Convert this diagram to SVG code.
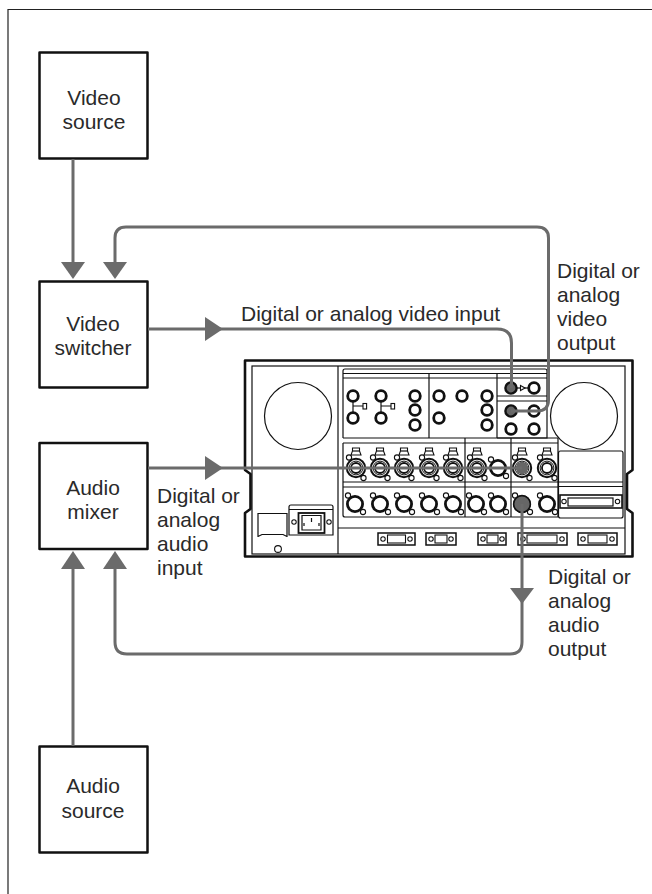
<svg xmlns="http://www.w3.org/2000/svg" width="652" height="894" viewBox="0 0 652 894">
<style>
.box{fill:#fff;stroke:#111;stroke-width:2.5;stroke-linejoin:round}
.t{font-family:"Liberation Sans",Arial,sans-serif;font-size:21px;fill:#2a2a2a}
.m{text-anchor:middle}
.l{fill:none;stroke:#111;stroke-width:1.2}
.j{fill:#fff;stroke:#111;stroke-width:2.8}
.d{fill:#666;stroke:#111;stroke-width:2.4}
.s{fill:#fff;stroke:#111;stroke-width:1.1}
.c{fill:none;stroke:#6b6b6b;stroke-width:3}
.a{fill:#6b6b6b;stroke:none}
</style>
<defs>
<g id="xin">
<path class="s" d="M-3.500,-20 H3.500 V-17 L5,-13 H-5 L-3.500,-17 Z"/>
<path class="l" d="M-3.500,-17 H3.500"/>
<circle r="9.2" fill="#fff" stroke="#111" stroke-width="2"/>
<circle r="6.9" fill="none" stroke="#111" stroke-width="1"/>
<circle r="5" fill="none" stroke="#111" stroke-width="1.8"/>
<circle class="s" cx="-7" cy="-10.500" r="2.6"/>
<circle class="s" cx="7.500" cy="10" r="2.6"/>
</g>
<g id="xout">
<circle r="7.600" class="j"/>
<circle class="s" cx="-7" cy="-8.500" r="2.6"/>
<circle class="s" cx="8" cy="8" r="2.6"/>
</g>
<circle id="scr" r="2.2" class="s"/>
</defs>

<path d="M8,894 V9.500 H652" fill="none" stroke="#222" stroke-width="1.2"/>

<g id="video-source"><rect class="box" x="39.500" y="52.500" width="108" height="106"/><text class="t m" x="94" y="105">Video</text><text class="t m" x="94" y="129">source</text></g>
<g id="video-switcher"><rect class="box" x="39.500" y="281.500" width="108" height="106"/><text class="t m" x="93" y="331">Video</text><text class="t m" x="93" y="355">switcher</text></g>
<g id="audio-mixer"><rect class="box" x="39.500" y="443" width="108" height="106"/><text class="t m" x="93" y="495">Audio</text><text class="t m" x="93" y="519">mixer</text></g>
<g id="audio-source"><rect class="box" x="39.500" y="746.500" width="108" height="106"/><text class="t m" x="93" y="793">Audio</text><text class="t m" x="93" y="818">source</text></g>

<g id="device">
<path d="M245,360.500 H632.500 V470 L627,474 V509 L632.500,513 V556.500 H245 V513 L250.500,509 V474 L245,470 Z" fill="#fff" stroke="#111" stroke-width="2.6" stroke-linejoin="round"/>
<rect class="l" x="252" y="366" width="373" height="188"/>
<path class="l" d="M338,366 V554 M338,528 H625"/>
<circle cx="298" cy="416" r="33.500" fill="#fff" stroke="#111" stroke-width="1.2"/>
<circle cx="584" cy="416" r="33.500" fill="#fff" stroke="#111" stroke-width="1.2"/>

<path class="l" d="M343,438 V371 Q343,369 345,369 H545 Q547,369 547,371 V438 H343 M343,373.500 H547 M343,378 H547 M429,374 V438 M497,374 V438 M497,396 H547 M497,401 H547"/>

<path class="l" d="M353,396 V418 M353,406 H363 M381,396 V418 M381,406 H391"/>
<rect class="s" x="363" y="403.500" width="3.600" height="5.500"/>
<rect class="s" x="391" y="403.500" width="3.600" height="5.500"/>
<g class="j">
<circle cx="353" cy="396" r="5.300"/><circle cx="353" cy="418" r="5.300"/>
<circle cx="381" cy="396" r="5.300"/><circle cx="381" cy="418" r="5.300"/>
<circle cx="415" cy="396" r="5.300"/><circle cx="415" cy="410" r="5.300"/><circle cx="415" cy="425" r="5.300"/>
<circle cx="439" cy="396" r="5.300"/><circle cx="439" cy="418" r="5.300"/>
<circle cx="462" cy="396" r="5.300"/>
<circle cx="487" cy="396" r="5.300"/><circle cx="487" cy="410" r="5.300"/><circle cx="487" cy="425" r="5.300"/>
<circle cx="534" cy="388" r="5.300"/><circle cx="534" cy="411" r="5.300"/>
<circle cx="511" cy="429" r="5.300"/><circle cx="534" cy="429" r="5.300"/>
</g>
<circle class="d" cx="511" cy="388" r="5.600"/>
<circle class="d" cx="511" cy="411" r="5.600"/>
<path class="l" d="M517,388 H528"/>
<path class="s" d="M520.500,385.500 L525,388 L520.500,390.500 Z"/>

<path class="l" d="M343,443 H558 M343,443 V515 Q343,517 345,517 H558 M497,438 H558 V517 M465,438 V517 M511,438 V517 M343,482 H558 M343,487 H558"/>

<use href="#xin" x="356" y="468"/><use href="#xin" x="380" y="468"/><use href="#xin" x="404" y="468"/><use href="#xin" x="429" y="468"/><use href="#xin" x="453" y="468"/><use href="#xin" x="477" y="468"/>
<use href="#xout" x="498" y="468"/>
<use href="#xin" x="522" y="468"/><use href="#xin" x="547" y="468"/>
<circle cx="522" cy="468" r="6" fill="#666"/>
<use href="#xout" x="355" y="504"/><use href="#xout" x="380" y="504"/><use href="#xout" x="404" y="504"/><use href="#xout" x="429" y="504"/><use href="#xout" x="453" y="504"/><use href="#xout" x="476" y="504"/><use href="#xout" x="498" y="504"/>
<use href="#xout" x="522" y="504"/><use href="#xout" x="547" y="504"/>
<circle cx="522" cy="504" r="8.400" fill="#666" stroke="#111" stroke-width="1.6"/>

<rect class="l" x="558.500" y="451" width="64.500" height="67" rx="2"/>
<path class="l" d="M558,482 H623 M558,486.500 H623"/>
<rect x="560" y="495" width="62" height="13" fill="#fff" stroke="#111" stroke-width="1.6"/>
<rect x="568" y="498" width="45" height="8" fill="#fff" stroke="#111" stroke-width="1.2"/>
<use href="#scr" x="564" y="501.500"/><use href="#scr" x="617.500" y="501.500"/>

<g fill="#fff" stroke="#111" stroke-width="1.5">
<rect x="378" y="533" width="37" height="12"/>
<rect x="426" y="533" width="30" height="12"/>
<rect x="478" y="533" width="28" height="12"/>
<rect x="518" y="533" width="49" height="12"/>
<rect x="578" y="533" width="39" height="12"/>
</g>
<g fill="#fff" stroke="#111" stroke-width="1.1">
<rect x="387.500" y="535" width="18" height="8"/>
<rect x="435" y="535" width="12" height="8"/>
<rect x="487" y="535" width="11" height="8"/>
<rect x="527" y="535" width="30" height="8"/>
<rect x="588" y="535" width="19" height="8"/>
</g>
<use href="#scr" x="383" y="539"/><use href="#scr" x="410" y="539"/>
<use href="#scr" x="431" y="539"/><use href="#scr" x="451" y="539"/>
<use href="#scr" x="483" y="539"/><use href="#scr" x="502" y="539"/>
<use href="#scr" x="523" y="539"/><use href="#scr" x="562" y="539"/>
<use href="#scr" x="583" y="539"/><use href="#scr" x="612" y="539"/>

<path class="l" d="M289,535 V507 Q289,505 291,505 H331 Q333,505 333,507 V535 Z M289,509.500 H333"/>
<rect x="298.500" y="513" width="26" height="20" fill="#fff" stroke="#111" stroke-width="1.8"/>
<path class="l" d="M302,515.500 H321 V530 H302 Z"/>
<path class="l" d="M311.500,518 V522 M304,523 V526 M319,523 V526"/>
<use href="#scr" x="294" y="522"/><use href="#scr" x="329" y="522"/>
<path class="l" d="M258,537 V513.500 H287 V537 M258,536.500 L262,534.500 H283 L287,536.500"/>
<circle cx="278" cy="549" r="3.400" class="s"/>
</g>

<g id="connectors">
<path class="c" d="M73,159 V264"/>
<path class="c" d="M115,264 V238 Q115,227 126,227 H537 Q548.500,227 548.500,238 V400 Q548.500,411 537,411 H511"/>
<path class="c" d="M148,329 H497 Q511.500,329 511.500,343 V388"/>
<path class="c" d="M148,468 H522"/>
<path class="c" d="M522,504 V642 Q522,654 510,654 H127 Q115,654 115,642 V567"/>
<path class="c" d="M73,746 V567"/>
<path class="a" d="M61,262 H85 L73,279 Z"/>
<path class="a" d="M103,262 H127 L115,279 Z"/>
<path class="a" d="M205,317 L223,329 L205,341 Z"/>
<path class="a" d="M205,456 L223,468 L205,480 Z"/>
<path class="a" d="M510,588 H534 L522,604 Z"/>
<path class="a" d="M61,569 H85 L73,551 Z"/>
<path class="a" d="M103,569 H127 L115,551 Z"/>
</g>

<g id="labels">
<text class="t" x="241" y="321">Digital or analog video input</text>
<text class="t" x="557" y="278">Digital or</text><text class="t" x="557" y="302">analog</text><text class="t" x="557" y="326">video</text><text class="t" x="557" y="350">output</text>
<text class="t" x="157" y="503">Digital or</text><text class="t" x="157" y="527">analog</text><text class="t" x="157" y="551">audio</text><text class="t" x="157" y="575">input</text>
<text class="t" x="548" y="584">Digital or</text><text class="t" x="548" y="608">analog</text><text class="t" x="548" y="632">audio</text><text class="t" x="548" y="656">output</text>
</g>
</svg>
